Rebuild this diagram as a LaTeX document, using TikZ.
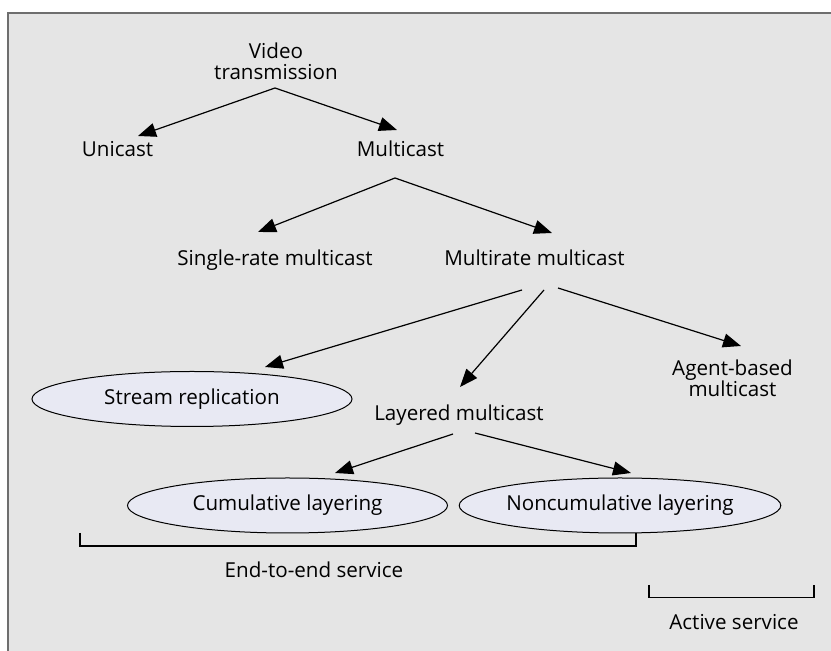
\documentclass[tikz,border=0pt]{standalone}
\usepackage{fontspec}
\setmainfont{Open Sans}
\usetikzlibrary{arrows.meta,shapes.geometric}
\definecolor{panel}{HTML}{E5E5E5}
\definecolor{framegray}{HTML}{6E6E6E}
\definecolor{ovalfill}{HTML}{E8E9F3}
\begin{document}
\begin{tikzpicture}[x=0.5pt,y=-0.5pt,
  lbl/.style={inner sep=0pt, font=\fontsize{10.3}{10.5}\selectfont, align=center},
  oval/.style={ellipse, draw=black, line width=0.5pt, fill=ovalfill,
    minimum width=160pt, minimum height=27.5pt, inner sep=0pt,
    font=\fontsize{10.3}{10.5}\selectfont},
  arr/.style={line width=0.6pt, line join=round, -{Triangle[length=9pt,width=7pt]}},
  bracket/.style={line width=0.6pt}]
\useasboundingbox (0,0) rectangle (831,651);
% panel with its top and left border
\fill[panel] (8,13) rectangle (831,651);
\draw[framegray, line width=0.7pt] (8,651) -- (8,13) -- (831,13);

% tree labels
\node[lbl] (vt) at (276,61) {Video\\transmission};
\node[lbl, anchor=base] (uni) at (117.5,157) {Unicast};
\node[lbl, anchor=base] (mc) at (400.5,157) {Multicast};
\node[lbl, anchor=base] (single) at (275,266) {Single-rate multicast};
\node[lbl, anchor=base] (multi) at (534.5,266) {Multirate multicast};
\node[lbl, anchor=base] (layered) at (459,421) {Layered multicast};
\node[lbl] (agent) at (732.5,378) {Agent-based\\multicast};
\node[oval] (stream) at (192,399) {Stream replication};
\node[oval] (cum) at (287.5,505.5) {Cumulative layering};
\node[oval] (noncum) at (620,505.5) {Noncumulative layering};
\node[lbl, anchor=base] (e2e) at (314,578) {End-to-end service};
\node[lbl, anchor=base] (active) at (734,630) {Active service};

% fork points below the parents
\coordinate (vt-fork) at ([shift={(-1,27)}]vt.center);
\coordinate (mc-fork) at ([shift={(-5.5,21)}]mc.base);

% connectors
\draw[arr] (vt-fork) -- ([shift={(20.5,-21)}]uni.base);
\draw[arr] (vt-fork) -- ([shift={(-3.5,-27)}]mc.base);
\draw[arr] (mc-fork) -- ([shift={(-17,-34)}]single.base);
\draw[arr] (mc-fork) -- ([shift={(17.5,-33)}]multi.base);
\draw[arr] ([shift={(-12.5,24)}]multi.base) -- ([shift={(73,-32)}]stream.center);
\draw[arr] ([shift={(9.5,24)}]multi.base) -- ([shift={(1,-34)}]layered.base);
\draw[arr] ([shift={(23.5,22)}]multi.base) -- ([shift={(8.5,-32)}]agent.center);
\draw[arr] ([shift={(-6,13)}]layered.base) -- ([shift={(47.5,-32.5)}]cum.center);
\draw[arr] ([shift={(16,12)}]layered.base) -- ([shift={(11,-32.5)}]noncum.center);

% service brackets
\draw[bracket] (80,533) -- (80,546) -- (636,546) -- (636,533);
\draw[bracket] (649,585) -- (649,597.5) -- (814,597.5) -- (814,585);
\end{tikzpicture}
\end{document}
